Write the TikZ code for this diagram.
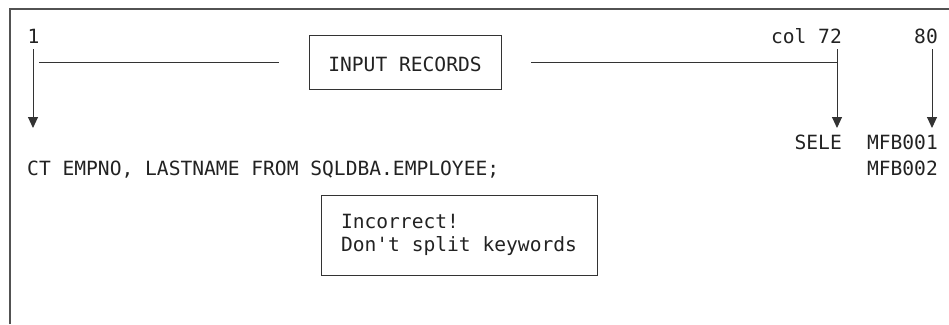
\documentclass[tikz,border=0pt]{standalone}
\usepackage{fontspec}
\usetikzlibrary{arrows.meta}
\newfontfamily\codefont{DejaVu Sans Mono}
\definecolor{ink}{HTML}{222222}
\definecolor{linecol}{HTML}{333333}
\begin{document}
\begin{tikzpicture}[x=1pt,y=-1pt,
  txt/.style={inner sep=0pt,text=ink,font=\codefont\fontsize{19.6}{23}\selectfont},
  boxnode/.style={draw=linecol,line width=1pt,inner sep=0pt,text=ink,font=\codefont\fontsize{19.6}{23}\selectfont},
  ruleline/.style={draw=linecol,line width=1pt},
  downarrow/.style={draw=linecol,line width=1pt,-{Triangle[length=11pt,width=10pt]}},
  frameline/.style={draw=linecol!85,line width=1.4pt}]
\useasboundingbox (0,0) rectangle (949,324);
% outer frame (top and left only)
\coordinate (ftl) at (10,9);
\coordinate (ftr) at (949,9);
\coordinate (fbl) at (10,324);
\draw[frameline] (fbl) -- (ftl) -- (ftr);
% labels above
\node[txt,anchor=base] (one) at (33.5,43) {1};
\node[txt,anchor=base east] (col) at (842,43) {col 72};
\node[txt,anchor=base east] (eighty) at (938,43) {80};
% input records box
\node[boxnode,minimum width=192pt,minimum height=54pt,text height=18pt,text depth=0pt] (inrec) at (405,62) {INPUT RECORDS};
% arrows and rules
\coordinate (s1) at (33,49);
\coordinate (e1) at (33,128);
\coordinate (s72) at (837,49);
\coordinate (e72) at (837,128);
\coordinate (s80) at (932,49);
\coordinate (e80) at (932,128);
\coordinate (hl) at (39,62);
\coordinate (hr) at (837,62);
\draw[downarrow] (s1) -- (e1);
\draw[downarrow] (s72) -- (e72);
\draw[downarrow] (s80) -- (e80);
\draw[ruleline] (hl) -- (inrec.west -| 279,0);
\draw[ruleline] (inrec.east -| 531,0) -- (hr);
% record lines
\node[txt,anchor=base east] (sele) at (842,149) {SELE};
\node[txt,anchor=base east] (mfb1) at (938,149) {MFB001};
\node[txt,anchor=base west] (rec2) at (27,175) {CT EMPNO, LASTNAME FROM SQLDBA.EMPLOYEE;};
\node[txt,anchor=base east] (mfb2) at (938,175) {MFB002};
% warning box
\node[boxnode,align=left,minimum width=276pt,minimum height=80pt] (warn) at (459,235) {Incorrect!\\Don't split keywords};
\end{tikzpicture}
\end{document}
